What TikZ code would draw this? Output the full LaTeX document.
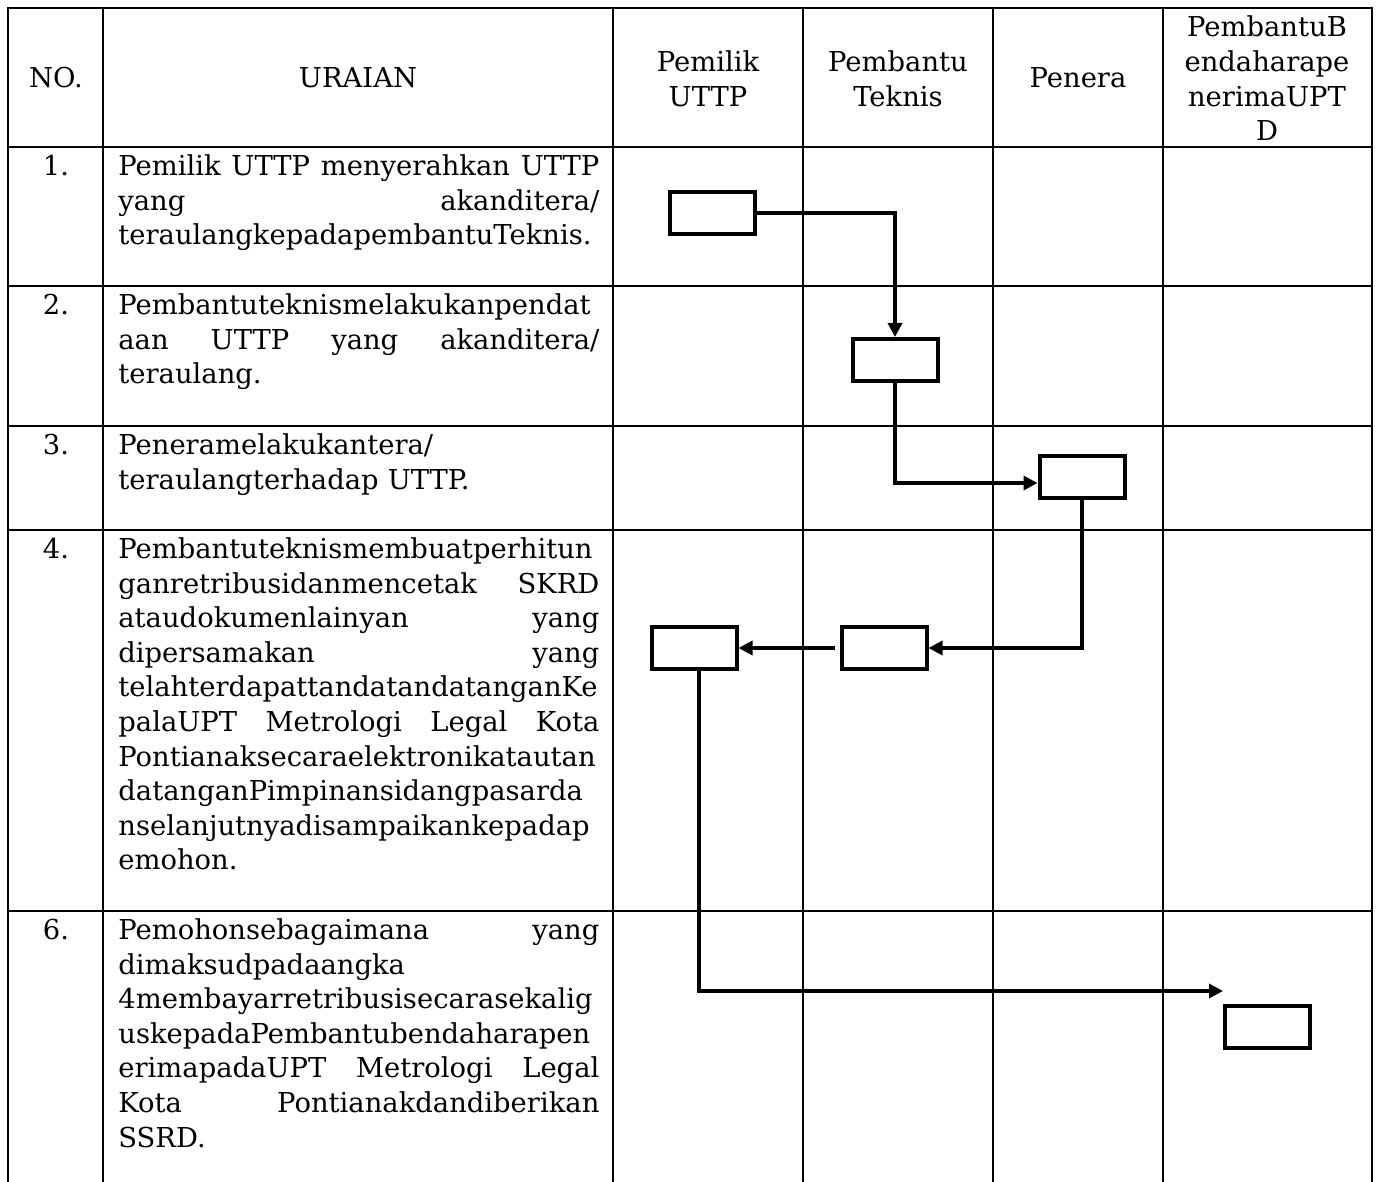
\documentclass[tikz,border=0pt]{standalone}
\usepackage{fontspec}
\setmainfont{DejaVu Serif}
\usetikzlibrary{arrows.meta,calc}
\newcommand\bodyfont{\fontsize{13.7}{17.3}\selectfont}
\newcommand\jl[1]{\leavevmode\hbox to 240.5pt{#1}}
\newcommand\pl[1]{\leavevmode\mbox{#1}}
\hbadness=10000
\hfuzz=20pt
\tikzset{
  gridline/.style={line width=1pt},
  box/.style={draw, line width=2pt, minimum width=42.5pt, minimum height=21pt, inner sep=0pt},
  flow/.style={line width=1.7pt, -{Triangle[length=7pt,width=7pt]}},
  txt/.style={anchor=base west, inner sep=0pt, text width=240.5pt, align=left, font=\bodyfont},
  hdr/.style={anchor=base, inner sep=0pt, align=center, font=\bodyfont},
  num/.style={anchor=base, inner sep=0pt, font=\bodyfont},
}
\begin{document}
\begin{tikzpicture}[x=0.5pt, y=-0.5pt]
\useasboundingbox (0,0) rectangle (1376,1182);
% table grid
\draw[gridline] (8,1182) -- (8,8) -- (1372,8) -- (1372,1182);
\foreach \xx in {103,613,803,993,1163} \draw[gridline] (\xx,8) -- (\xx,1182);
\foreach \yy in {147,286,426,530,911} \draw[gridline] (8,\yy) -- (1372,\yy);
% header
\node[hdr] (hno) at (56,88) {NO.};
\node[hdr] (hur) at (358,88) {URAIAN};
\node[hdr, text width=90pt] (hpem) at (708,72) {Pemilik\\UTTP};
\node[hdr, text width=90pt] (htek) at (898,72) {Pembantu\\Teknis};
\node[hdr] (hpen) at (1078,88) {Penera};
\node[hdr, text width=100pt] (hben) at (1267,37) {PembantuB\\endaharape\\nerimaUPT\\D};
% numbers
\node[num] (n1) at (56,175.5) {1.};
\node[num] (n2) at (56,314.5) {2.};
\node[num] (n3) at (56,454.5) {3.};
\node[num] (n4) at (56,558.5) {4.};
\node[num] (n6) at (56,939.5) {6.};
% descriptions
\node[txt] (t1) at (118,175.5) {\jl{Pemilik\hfill\ UTTP\hfill\ menyerahkan\hfill\ UTTP}\\
  \jl{yang\hfill akanditera/}\\
  \pl{teraulangkepadapembantuTeknis.}};
\node[txt] (t2) at (118,314.5) {\pl{Pembantuteknismelakukanpendat}\\
  \jl{aan\hfill\ UTTP\hfill\ yang\hfill\ akanditera/}\\
  \pl{teraulang.}};
\node[txt] (t3) at (118,454.5) {\pl{Peneramelakukantera/}\\
  \pl{teraulangterhadap UTTP.}};
\node[txt] (t4) at (118,558.5) {\pl{Pembantuteknismembuatperhitun}\\
  \jl{ganretribusidanmencetak\hfill SKRD}\\
  \jl{ataudokumenlainyan\hfill yang}\\
  \jl{dipersamakan\hfill yang}\\
  \pl{telahterdapattandatandatanganKe}\\
  \jl{palaUPT\hfill\ Metrologi\hfill\ Legal\hfill\ Kota}\\
  \pl{Pontianaksecaraelektronikatautan}\\
  \pl{datanganPimpinansidangpasarda}\\
  \pl{nselanjutnyadisampaikankepadap}\\
  \pl{emohon.}};
\node[txt] (t6) at (118,939.5) {\jl{Pemohonsebagaimana\hfill yang}\\
  \pl{dimaksudpadaangka}\\
  \pl{4membayarretribusisecarasekalig}\\
  \pl{uskepadaPembantubendaharapen}\\
  \jl{erimapadaUPT\hfill\ Metrologi\hfill\ Legal}\\
  \jl{Kota\hfill Pontianakdandiberikan}\\
  \pl{SSRD.}};
% flow boxes
\node[box] (b1) at (712.5,213) {};
\node[box] (b2) at (895,360) {};
\node[box] (b3) at (1082,477) {};
\node[box] (b4a) at (694,648) {};
\node[box] (b4b) at (884,648) {};
\node[box] (b6) at (1267,1027) {};
\coordinate (e6) at (1223,991);
% connectors
\draw[flow] (b1.east) -| (b2.north);
\draw[flow] (b2.south) |- ([yshift=-3pt]b3.west);
\draw[flow] (b3.south) |- (b4b.east);
\draw[flow] ([xshift=-2.5pt]b4b.west) -- (b4a.east);
\draw[flow] ([xshift=2.5pt]b4a.south) |- (e6);
\end{tikzpicture}
\end{document}
